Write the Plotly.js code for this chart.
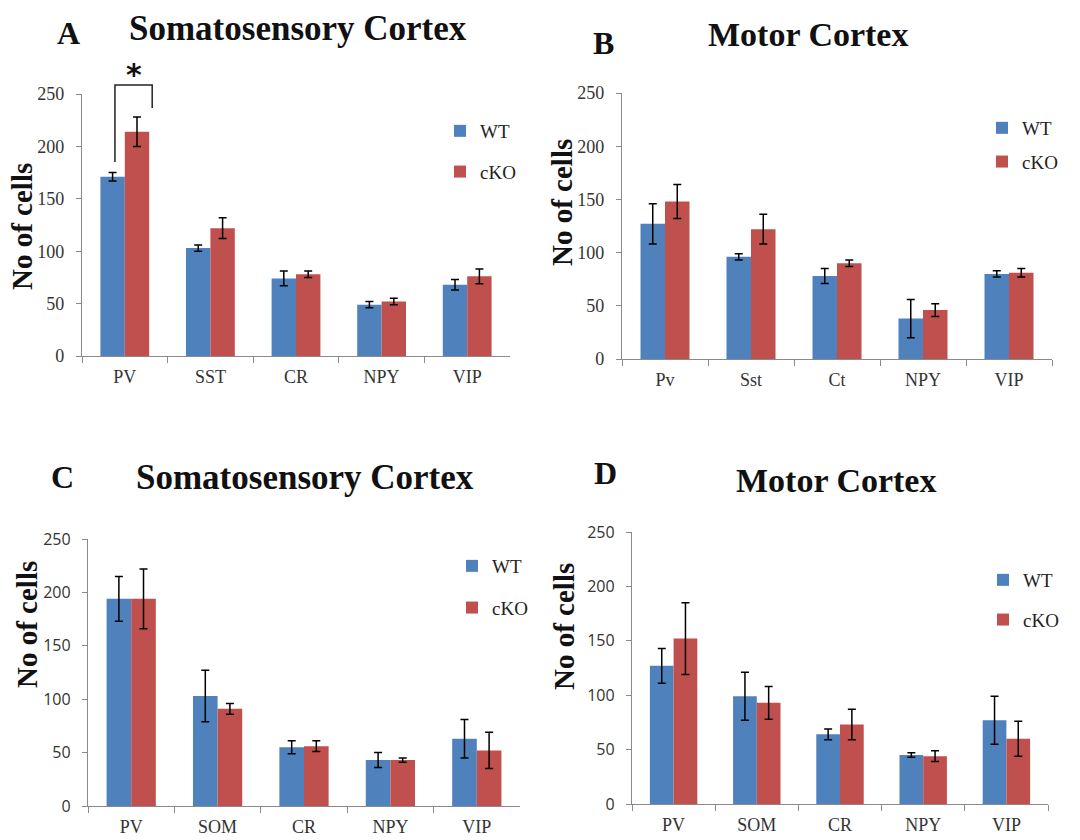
<!DOCTYPE html>
<html><head><meta charset="utf-8">
<script src="https://cdn.plot.ly/plotly-3.0.1.min.js"></script>
<style>html,body{margin:0;padding:0;background:#fff}#chart{width:1080px;height:840px}</style>
</head><body><div id="chart"></div>
<script>
// ---- data ----
const seriesNames = ['WT', 'cKO'];

const categoriesA = ['PV', 'SST', 'CR', 'NPY', 'VIP'];
const wtA = [171, 103, 74, 49, 68];
const wtErrA = [4, 3, 7, 3, 5];
const koA = [214, 122, 78, 52, 76];
const koErrA = [14, 10, 3, 3, 7];

const categoriesB = ['Pv', 'Sst', 'Ct', 'NPY', 'VIP'];
const wtB = [127, 96, 78, 38, 80];
const wtErrB = [19, 3, 7, 18, 3];
const koB = [148, 122, 90, 46, 81];
const koErrB = [16, 14, 3, 6, 4];

const categoriesC = ['PV', 'SOM', 'CR', 'NPY', 'VIP'];
const wtC = [194, 103, 55, 43, 63];
const wtErrC = [21, 24, 6, 7, 18];
const koC = [194, 91, 56, 43, 52];
const koErrC = [28, 5, 5, 2, 17];

const categoriesD = ['PV', 'SOM', 'CR', 'NPY', 'VIP'];
const wtD = [127, 99, 64, 45, 77];
const wtErrD = [16, 22, 5, 2, 22];
const koD = [152, 93, 73, 44, 60];
const koErrD = [33, 15, 14, 5, 16];

const yTicks = [0, 50, 100, 150, 200, 250];

// ---- styles ----
const BLUE = '#4F81BD', RED = '#C0504D';
const SERIF = 'Liberation Serif';
const SANS = 'Open Sans';

function bar(cats, vals, errs, name, color, ax, leg, grp) {
  return {
    type: 'bar', x: cats, y: vals, name: name,
    marker: {color: color},
    error_y: {type: 'data', array: errs, visible: true, color: '#000', thickness: 1.5, width: 4},
    xaxis: 'x' + ax, yaxis: 'y' + ax,
    legend: leg, legendgroup: grp, showlegend: true
  };
}

const data = [
  bar(categoriesA, wtA, wtErrA, seriesNames[0], BLUE, '', 'legend', 'a1'),
  bar(categoriesA, koA, koErrA, seriesNames[1], RED, '', 'legend', 'a2'),
  bar(categoriesB, wtB, wtErrB, seriesNames[0], BLUE, '2', 'legend2', 'b1'),
  bar(categoriesB, koB, koErrB, seriesNames[1], RED, '2', 'legend2', 'b2'),
  bar(categoriesC, wtC, wtErrC, seriesNames[0], BLUE, '3', 'legend3', 'c1'),
  bar(categoriesC, koC, koErrC, seriesNames[1], RED, '3', 'legend3', 'c2'),
  bar(categoriesD, wtD, wtErrD, seriesNames[0], BLUE, '4', 'legend4', 'd1'),
  bar(categoriesD, koD, koErrD, seriesNames[1], RED, '4', 'legend4', 'd2')
];

function xax(domain, anchor, font) {
  return {
    domain: domain, anchor: anchor, type: 'category', range: [-0.5, 4.5],
    showline: true, linecolor: '#8a8a8a', linewidth: 1.2,
    ticks: 'outside', tickson: 'boundaries', ticklen: 6, tickcolor: '#8a8a8a',
    tickfont: font, showgrid: false, zeroline: false, fixedrange: true,
    ticklabelstandoff: 4
  };
}
function yax(domain, anchor, font) {
  return {
    domain: domain, anchor: anchor, range: [0, 250], tickvals: yTicks,
    showline: true, linecolor: '#8a8a8a', linewidth: 1.2,
    ticks: 'outside', ticklen: 5, tickcolor: '#8a8a8a',
    tickfont: font, showgrid: false, zeroline: false, fixedrange: true,
    ticklabelstandoff: 8
  };
}
const serifTick = {family: SERIF, size: 18, color: '#333'};
const sansTick = {family: SANS, size: 16, color: '#333'};

function legend(x, y, gap) {
  return {
    x: x, y: y, xanchor: 'left', yanchor: 'middle', xref: 'paper', yref: 'paper',
    bgcolor: 'rgba(0,0,0,0)', font: {family: SERIF, size: 19, color: '#222'},
    tracegroupgap: gap, itemclick: false, itemdoubleclick: false, itemwidth: 30
  };
}

function ann(text, x, y, size, extra) {
  return Object.assign({
    text: text, x: x / 1080, y: 1 - y / 840, xref: 'paper', yref: 'paper',
    showarrow: false, xanchor: 'center', yanchor: 'middle',
    font: {family: SERIF, size: size, color: '#111', weight: 'bold'}
  }, extra || {});
}

const layout = {
  width: 1080, height: 840, margin: {l: 0, r: 0, t: 0, b: 0},
  paper_bgcolor: '#fff', plot_bgcolor: '#fff',
  barmode: 'group', bargap: 0.43, bargroupgap: 0,
  xaxis: xax([82 / 1080, 510 / 1080], 'y', serifTick),
  yaxis: yax([1 - 356 / 840, 1 - 94 / 840], 'x', serifTick),
  xaxis2: xax([622 / 1080, 1052 / 1080], 'y2', serifTick),
  yaxis2: yax([1 - 359 / 840, 1 - 93 / 840], 'x2', serifTick),
  xaxis3: xax([88 / 1080, 520 / 1080], 'y3', serifTick),
  yaxis3: yax([1 - 806 / 840, 1 - 539 / 840], 'x3', sansTick),
  xaxis4: xax([632 / 1080, 1048 / 1080], 'y4', serifTick),
  yaxis4: yax([1 - 804 / 840, 1 - 532 / 840], 'x4', sansTick),
  legend: legend(440 / 1080, 1 - 151.5 / 840, 13),
  legend2: legend(982 / 1080, 1 - 145 / 840, 6),
  legend3: legend(452 / 1080, 1 - 587 / 840, 14),
  legend4: legend(983 / 1080, 1 - 600 / 840, 12),
  annotations: [
    ann('A', 68, 33, 32),
    ann('Somatosensory Cortex', 298, 29, 35),
    ann('B', 603, 43, 32),
    ann('Motor Cortex', 808, 35, 34),
    ann('C', 62, 477, 32),
    ann('Somatosensory Cortex', 305, 477, 35),
    ann('D', 605, 473, 32),
    ann('Motor Cortex', 836, 481, 34),
    ann('No of cells', 22, 227, 29, {textangle: -90}),
    ann('No of cells', 562, 203, 29, {textangle: -90}),
    ann('No of cells', 27, 625, 29, {textangle: -90}),
    ann('No of cells', 564, 627, 29, {textangle: -90}),
    {text: '*', xref: 'x domain', yref: 'y domain', x: 0.121, y: 1.075, showarrow: false,
     xanchor: 'center', yanchor: 'middle', font: {family: 'DejaVu Sans', size: 30, color: '#111', weight: 'bold'}}
  ],
  shapes: [
    {type: 'path', xref: 'x domain', yref: 'y domain',
     path: 'M 0.077 0.740 L 0.077 1.034 L 0.164 1.034 L 0.164 0.947',
     line: {color: '#222', width: 1.5}}
  ]
};

Plotly.newPlot('chart', data, layout, {displayModeBar: false, staticPlot: true});
</script>
</body></html>
